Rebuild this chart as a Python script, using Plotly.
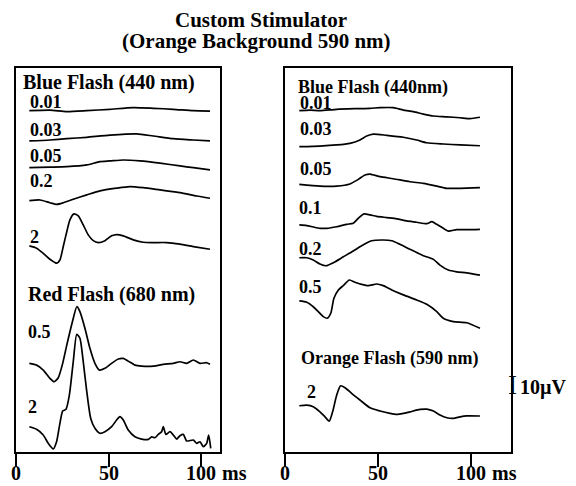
import plotly.graph_objects as go

# ---------------- data (time in ms, amplitude in µV relative to trace start) -------------
# Left panel – Blue Flash (440 nm)
L_b001_t = [7.2, 18.3, 27.4, 38.2, 50.7, 63.3, 74.1, 84.9, 95.7, 104.7]
L_b001_v = [0, 0.4, -0.6, 0, 0.9, 1.9, 1.5, 0.9, 0, -0.2]
L_b003_t = [7.2, 18.3, 27.4, 38.2, 50.7, 65.1, 74.1, 84.9, 95.7, 104.7]
L_b003_v = [0, 0.6, 1.4, 2.3, 3.6, 4.4, 3.1, 1.4, 0.6, 0]
L_b005_t = [7.2, 18.3, 27.4, 38.2, 45.3, 50.7, 57.9, 66.9, 77.7, 88.5, 95.7, 104.7]
L_b005_v = [0, 0.3, 0.6, 1.7, 3.8, 4.2, 4.8, 4.2, 2.8, 1.1, 0, -1.4]
L_b02_t = [7.2, 13.0, 18.3, 22.0, 25.5, 30.9, 38.2, 45.3, 54.3, 61.5, 68.7, 77.7, 88.5, 97.5, 104.7]
L_b02_v = [0, 0.4, -1.3, -2.3, -1.3, 0.9, 3.6, 6.1, 7.8, 8.8, 8.1, 6.7, 5.0, 2.9, 1.5]
L_b2_t = [7.2, 11.1, 14.7, 18.3, 22.0, 23.7, 25.5, 27.4, 29.1, 31.3, 33.6, 36.3, 39.0, 41.7,
          44.4, 48.0, 51.6, 54.3, 57.9, 63.3, 68.7, 74.1, 81.3, 88.5, 95.7, 104.7]
L_b2_v = [0, -1.4, -4.6, -8.3, -10.8, -8.8, -0.4, 8.9, 16.3, 20.0, 18.8, 13.1, 6.9, 3.3,
          2.1, 3.3, 6.3, 7.1, 6.3, 3.8, 2.3, 2.1, 2.1, 1.1, -0.4, -2.1]
# Left panel – Red Flash (680 nm)
L_r05_t = [7.2, 11.1, 14.7, 18.3, 20.6, 22.8, 25.2, 27.4, 29.1, 30.9, 32.8, 34.5, 37.2, 39.9,
           42.6, 45.0, 48.0, 51.6, 55.2, 57.9, 60.6, 64.2, 67.8, 74.1, 79.5, 84.9, 88.5, 92.1,
           95.7, 99.3, 102.9, 104.7]
L_r05_v = [0, -1.1, -4.2, -9.4, -11.5, -9.0, 0, 11.4, 19.8, 28.1, 35.4, 32.3, 21.9, 9.4,
           0, -4.2, -3.1, 0, 2.7, 3.1, 1.4, -1.1, -1.7, -1.7, -0.6, 0, 1.0, 0,
           2.1, 0, 0.4, -0.6]
L_r2_t = [7.2, 11.1, 14.7, 17.4, 20.1, 21.9, 23.7, 25.2, 27.0, 28.8, 30.9, 32.8, 34.5, 36.3,
          38.2, 40.3, 42.6, 45.3, 48.0, 51.6, 54.3, 56.1, 57.9, 60.6, 64.2, 67.8, 71.4, 73.2,
          75.0, 76.8, 78.6, 79.5, 80.9, 83.1, 84.9, 86.7, 88.5, 90.3, 92.1, 95.7, 97.5, 99.3,
          101.1, 102.9, 104.0, 105.1]
L_r2_v = [0, -1.6, -5.2, -10.4, -13.9, -9.4, 2.1, 9.8, 10.9, 19.8, 40.6, 57.8, 55.3, 40.6,
          21.9, 5.3, -1.0, -4.1, -3.1, 0, 4.2, 6.3, 4.2, -2.1, -6.3, -7.7, -7.9, -6.3,
          -6.9, -4.8, -3.1, 0, -4.8, -3.1, -5.2, -7.7, -5.6, -4.8, -8.9, -8.3, -10.4, -9.4,
          -12.5, -10.4, -5.2, -13.5]

# Right panel – Blue Flash (440nm)
R_b001_t = [7.7, 13.4, 18.8, 27.8, 38.5, 45.7, 51.1, 58.2, 63.6, 69.0, 74.4, 79.8, 86.9, 94.1, 99.5, 104.8]
R_b001_v = [0, 0.4, 0, 0.9, 1.3, 1.5, 1.9, 1.9, 0.4, -0.6, -2.1, -3.3, -3.8, -4.4, -5.0, -4.1]
R_b003_t = [7.7, 18.8, 27.8, 34.9, 40.3, 43.9, 47.5, 54.7, 63.6, 70.8, 76.2, 85.1, 94.1, 104.8]
R_b003_v = [0, 0.4, 1.1, 2.1, 4.2, 6.7, 7.9, 7.1, 5.9, 4.2, 2.5, 1.7, 1.1, 0.6]
R_b005_t = [7.7, 18.8, 27.8, 34.9, 39.4, 43.0, 45.7, 51.1, 58.2, 67.2, 74.4, 81.6, 86.9, 94.1, 104.8]
R_b005_v = [0, -1.1, -1.1, 0.2, 3.1, 5.8, 6.4, 4.8, 3.5, 1.6, 0.6, -1.1, -2.5, -2.5, -2.1]
R_b01_t = [7.7, 11.7, 15.2, 18.8, 22.4, 27.8, 33.2, 36.7, 39.4, 42.5, 45.7, 49.3, 54.7, 60.1,
           65.4, 70.8, 76.2, 78.9, 81.6, 85.1, 87.8, 92.3, 97.7, 104.8]
R_b01_v = [0, -0.4, -1.3, -2.1, -2.1, -1.1, 0.4, 1.1, 4.2, 6.9, 6.3, 5.4, 4.6, 3.8,
           2.5, 1.7, 0.8, 2.1, 0.4, -2.1, -3.8, -2.9, -2.9, -2.7]
R_b02_t = [7.7, 11.7, 15.2, 18.8, 22.0, 26.0, 31.4, 36.7, 41.2, 46.6, 52.8, 57.4, 61.8, 67.2,
           74.4, 79.8, 83.3, 87.8, 92.3, 97.7, 104.8]
R_b02_v = [0, 0, -1.4, -3.9, -5.0, -3.1, 0.6, 4.2, 7.5, 10.6, 11.1, 10.6, 8.4, 5.3,
           1.3, -1.0, -4.6, -7.7, -8.8, -9.4, -10.8]
R_b05_t = [7.7, 11.7, 15.2, 17.9, 20.6, 22.7, 24.6, 26.3, 28.7, 31.3, 34.6, 37.6, 41.2, 44.8,
           49.3, 52.8, 57.4, 63.6, 70.8, 76.2, 81.6, 85.1, 90.5, 97.7, 104.8]
R_b05_v = [0, -0.8, -3.6, -6.7, -9.8, -10.8, -7.7, 1.7, 6.9, 9.6, 13.1, 11.7, 10.4, 9.6,
           10.6, 9.6, 6.9, 3.8, 0.6, -2.1, -6.7, -10.8, -12.9, -13.6, -17.1]
# Right panel – Orange Flash (590 nm)
R_o2_t = [7.7, 11.7, 15.2, 18.8, 21.5, 23.8, 25.6, 27.8, 29.9, 32.3, 35.8, 40.3, 45.7, 51.1,
          56.5, 60.1, 63.6, 67.2, 72.6, 76.2, 79.8, 83.3, 87.0, 90.5, 94.1, 97.7, 104.8]
R_o2_v = [0, 0.4, -0.6, -3.8, -6.9, -9.6, -3.8, 6.7, 12.5, 11.3, 7.8, 3.6, -1.3, -3.3,
          -4.8, -5.4, -4.8, -3.8, -2.3, -2.1, -3.3, -5.8, -7.5, -7.9, -6.9, -6.3, -6.4]

left_labels = ["0.01", "0.03", "0.05", "0.2", "2", "0.5", "2"]
right_labels = ["0.01", "0.03", "0.05", "0.1", "0.2", "0.5", "2"]
tick_vals = [0, 50, 100]
tick_text = ["0", "50", "100"]
tick_unit = "ms"

# ---------------- layout constants -------------
left_series = [(L_b001_t, L_b001_v), (L_b003_t, L_b003_v), (L_b005_t, L_b005_v),
               (L_b02_t, L_b02_v), (L_b2_t, L_b2_v), (L_r05_t, L_r05_v), (L_r2_t, L_r2_v)]
right_series = [(R_b001_t, R_b001_v), (R_b003_t, R_b003_v), (R_b005_t, R_b005_v),
                (R_b01_t, R_b01_v), (R_b02_t, R_b02_v), (R_b05_t, R_b05_v), (R_o2_t, R_o2_v)]
left_offsets = [213.3, 194.4, 177.7, 157.1, 128.8, 55.4, 15.8]
right_offsets = [213.3, 190.8, 167.3, 141.9, 121.4, 94.4, 28.9]
left_label_pos = [(6.6, 219.0), (6.6, 201.5), (6.6, 185.2), (6.6, 169.6), (6.6, 134.6),
                  (5.4, 74.9), (5.5, 28.0)]
right_label_pos = [(7.2, 218.3), (7.2, 202.1), (7.2, 177.1), (6.7, 152.7), (6.7, 127.1),
                   (6.7, 103.3), (10.5, 37.7)]

FONT = "Liberation Serif"
W, H = 576, 486

fig = go.Figure()
line = dict(color="black", width=1.7, shape="spline", smoothing=0.6)
for (t, v), off in zip(left_series, left_offsets):
    fig.add_trace(go.Scatter(x=t, y=[off + a for a in v], mode="lines", line=line,
                             xaxis="x", yaxis="y", hoverinfo="skip", showlegend=False))
for (t, v), off in zip(right_series, right_offsets):
    fig.add_trace(go.Scatter(x=t, y=[off + a for a in v], mode="lines", line=line,
                             xaxis="x2", yaxis="y2", hoverinfo="skip", showlegend=False))

ydom = [34 / H, 418 / H]
axis_common = dict(showline=True, linewidth=1.5, linecolor="black", mirror=True,
                   showgrid=False, zeroline=False)
xcommon = dict(axis_common, ticks="outside", ticklen=13, tickwidth=1.5, tickcolor="black",
               tickvals=tick_vals, showticklabels=False)
XL = dict(domain=[16 / W, 220 / W], range=[0, 110.1])
XR = dict(domain=[285 / W, 511 / W], range=[0, 121.5])
fig.update_layout(
    width=W, height=H, autosize=False,
    margin=dict(l=0, r=0, t=0, b=0),
    paper_bgcolor="white", plot_bgcolor="white",
    xaxis=dict(xcommon, **XL, anchor="y"),
    yaxis=dict(axis_common, domain=ydom, range=[0, 240], showticklabels=False, ticks="", anchor="x"),
    xaxis2=dict(xcommon, **XR, anchor="y2"),
    yaxis2=dict(axis_common, domain=ydom, range=[0, 240], showticklabels=False, ticks="", anchor="x2"),
)

ann = []
def bold(txt):
    return "<b>" + txt + "</b>"

def txt(text, x, y, xref, yref, size, xanchor="left", b=True):
    return dict(text=bold(text) if b else text, x=x, y=y, xref=xref, yref=yref,
                xanchor=xanchor, yanchor="middle", showarrow=False,
                font=dict(family=FONT, size=size, color="black"))

for lab, (x, y) in zip(left_labels, left_label_pos):
    ann.append(txt(lab, x, y, "x", "y", 18))
for lab, (x, y) in zip(right_labels, right_label_pos):
    ann.append(txt(lab, x, y, "x2", "y2", 18))

# tick labels (numbers centred on the ticks, unit after the last one)
TICK_Y = 1 - 473 / H
for xr, ax in (("x", XL), ("x2", XR)):
    for v, lab in zip(tick_vals, tick_text):
        ann.append(txt(lab, v, TICK_Y, xr, "paper", 20, "center"))
    d0, d1 = ax["domain"]
    r0, r1 = ax["range"]
    unit_x = d0 + (tick_vals[-1] + 10.0 - r0) / (r1 - r0) * (d1 - d0)
    ann.append(txt(tick_unit, unit_x, TICK_Y, "paper", "paper", 20))

ann += [
    txt("Blue Flash (440 nm)", 2.9, 230.8, "x", "y", 20),
    txt("Red Flash (680 nm)", 5.4, 98.3, "x", "y", 20),
    txt("Blue Flash (440nm)", 6.0, 227.9, "x2", "y2", 18),
    txt("Orange Flash (590 nm)", 7.4, 58.3, "x2", "y2", 18),
    txt("Custom Stimulator", 261 / W, 1 - 20 / H, "paper", "paper", 21, "center"),
    txt("(Orange Background 590 nm)", 256 / W, 1 - 41 / H, "paper", "paper", 21, "center"),
    txt("I", 512 / W, 1 - 385 / H, "paper", "paper", 27, "center", b=False),
    txt("10µV", 518 / W, 1 - 387 / H, "paper", "paper", 20),
]
fig.update_layout(annotations=ann)

fig.write_html("out.html")
